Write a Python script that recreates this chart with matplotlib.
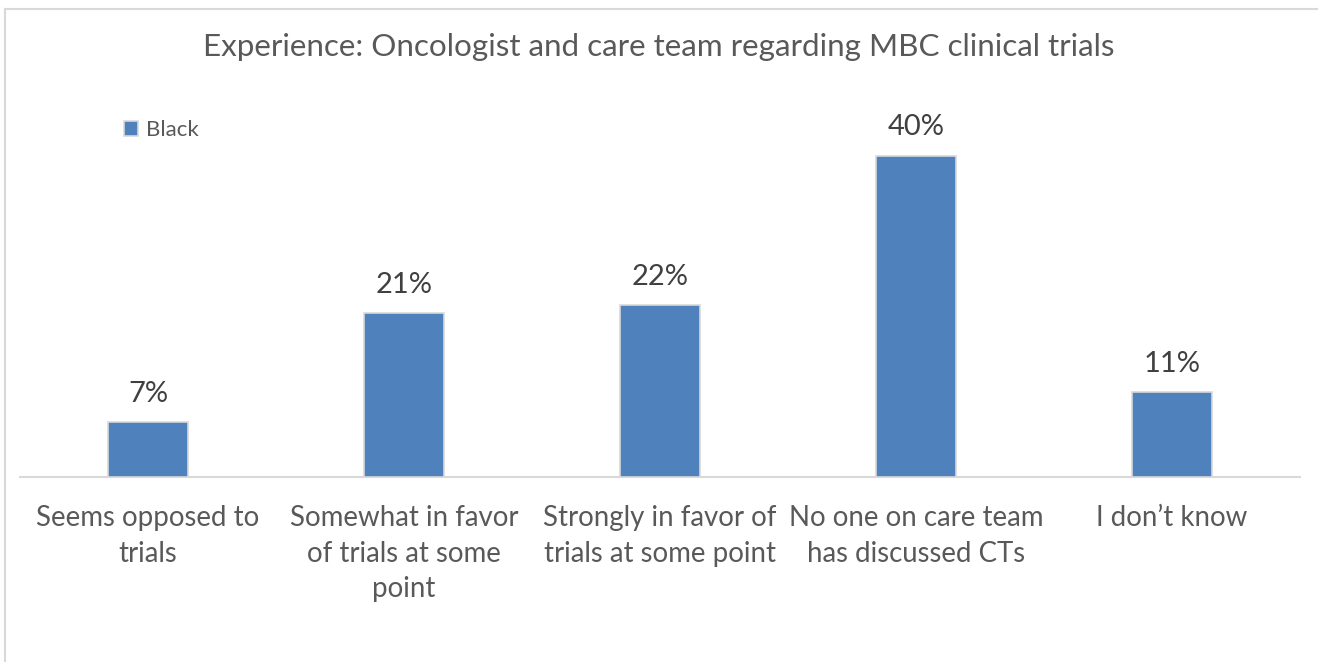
import matplotlib
matplotlib.use("Agg")
import matplotlib.pyplot as plt
from matplotlib.lines import Line2D

categories = [
    "Seems opposed to\ntrials",
    "Somewhat in favor\nof trials at some\npoint",
    "Strongly in favor of\ntrials at some point",
    "No one on care team\nhas discussed CTs",
    "I don\u2019t know",
]
values = [6.9, 20.6, 21.6, 40.4, 10.7]
series_name = "Black"
title = "Experience: Oncologist and care team regarding MBC clinical trials"

W, H = 1318, 662
DPI = 100
FONT = "Lato"
BAR = "#4F81BD"
GRID = "#D9D9D9"
TXT = "#595959"
LBL = "#404040"

fig = plt.figure(figsize=(W / DPI, H / DPI), dpi=DPI)
fig.patch.set_facecolor("white")

# chart border (top and left edges visible)
fig.add_artist(Line2D([5 / W, 5 / W], [0, 1 - 9 / H], color=GRID, lw=1.5))
fig.add_artist(Line2D([5 / W, 1], [1 - 9 / H, 1 - 9 / H], color=GRID, lw=1.5))

ax_l, ax_r = 20 / W, 1300 / W
ax_b, ax_t = 1 - 477 / H, 1 - 119 / H
ax = fig.add_axes([ax_l, ax_b, ax_r - ax_l, ax_t - ax_b])
x = list(range(len(categories)))
bars = ax.bar(x, values, width=0.31, color=BAR, edgecolor=GRID, linewidth=1.2,
              label=series_name, zorder=3)
ax.set_xlim(-0.5, len(categories) - 0.5)
ax.set_ylim(0, 45)
for s in ["top", "right", "left"]:
    ax.spines[s].set_visible(False)
ax.spines["bottom"].set_color(GRID)
ax.spines["bottom"].set_linewidth(1.5)
ax.set_yticks([])
ax.set_xticks(x)
ax.set_xticklabels(categories, fontsize=19.9, color=TXT, family=FONT, linespacing=1.45)
ax.tick_params(axis="x", length=0, pad=20.5)

for b, v in zip(bars, values):
    ax.annotate(f"{v:.0f}%", (b.get_x() + b.get_width() / 2, v),
                xytext=(0, 14.5), textcoords="offset points", ha="center",
                va="baseline", fontsize=21, color=LBL, family=FONT)

fig.text(0.5, 1 - 47 / H, title, ha="center", va="center", fontsize=22.6,
         color=TXT, family=FONT)

leg = ax.legend(loc="center left", bbox_to_anchor=(124 / W, 1 - 130 / H),
                bbox_transform=fig.transFigure, frameon=False,
                prop={"family": FONT, "size": 16}, handlelength=0.65,
                handleheight=0.65, handletextpad=0.35, borderpad=0,
                borderaxespad=0)
for t in leg.get_texts():
    t.set_color(TXT)

fig.savefig("out.png", dpi=DPI, facecolor="white")
